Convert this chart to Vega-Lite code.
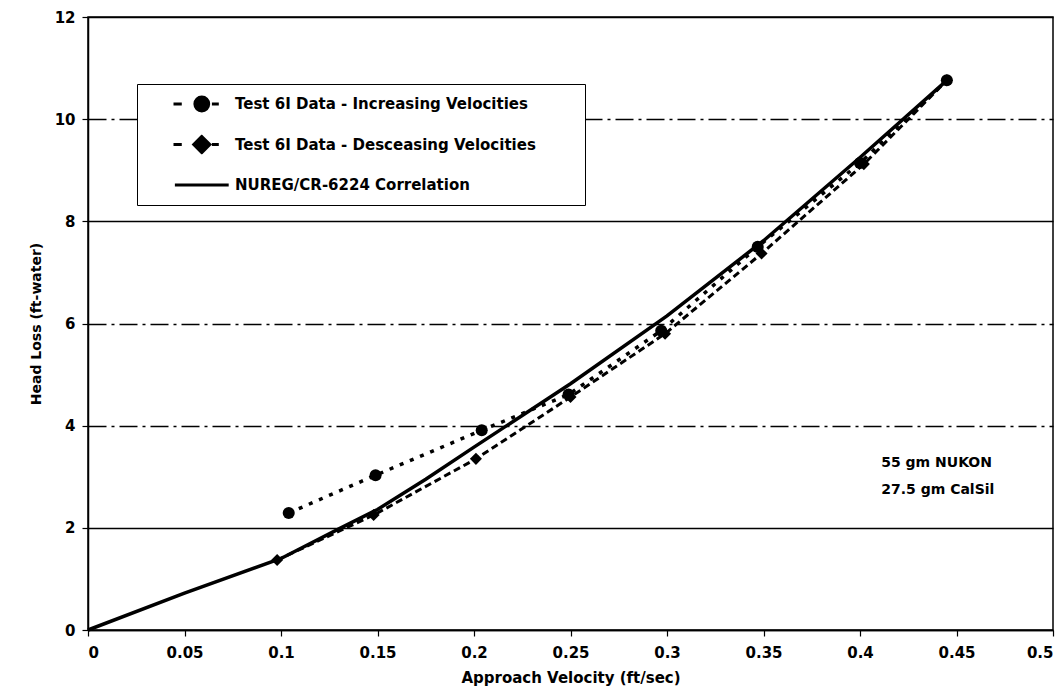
{
  "$schema": "https://vega.github.io/schema/vega-lite/v6.json",
  "width": 965,
  "height": 613,
  "autosize": {"type": "none"},
  "padding": {"left": 88, "top": 17, "right": 10, "bottom": 64},
  "background": "white",
  "config": {
    "font": "DejaVu Sans",
    "view": {"stroke": "black", "strokeWidth": 1.5},
    "axis": {
      "labelFont": "DejaVu Sans", "labelFontWeight": "bold", "labelFontSize": 15, "labelColor": "black",
      "titleFont": "DejaVu Sans", "titleFontWeight": "bold", "titleFontSize": 15, "titleColor": "black",
      "domainColor": "black", "tickColor": "black", "domainWidth": 1.5, "tickWidth": 1.2, "tickSize": 6
    }
  },
  "datasets": {
    "series": [
      {"s": "Test 6I Data - Increasing Velocities", "v": 0.104, "h": 2.29},
      {"s": "Test 6I Data - Increasing Velocities", "v": 0.149, "h": 3.03},
      {"s": "Test 6I Data - Increasing Velocities", "v": 0.204, "h": 3.91},
      {"s": "Test 6I Data - Increasing Velocities", "v": 0.249, "h": 4.61},
      {"s": "Test 6I Data - Increasing Velocities", "v": 0.297, "h": 5.86},
      {"s": "Test 6I Data - Increasing Velocities", "v": 0.347, "h": 7.50},
      {"s": "Test 6I Data - Increasing Velocities", "v": 0.400, "h": 9.14},
      {"s": "Test 6I Data - Increasing Velocities", "v": 0.445, "h": 10.76},
      {"s": "Test 6I Data - Desceasing Velocities", "v": 0.098, "h": 1.37},
      {"s": "Test 6I Data - Desceasing Velocities", "v": 0.148, "h": 2.25},
      {"s": "Test 6I Data - Desceasing Velocities", "v": 0.201, "h": 3.35},
      {"s": "Test 6I Data - Desceasing Velocities", "v": 0.250, "h": 4.56},
      {"s": "Test 6I Data - Desceasing Velocities", "v": 0.299, "h": 5.80},
      {"s": "Test 6I Data - Desceasing Velocities", "v": 0.349, "h": 7.37},
      {"s": "Test 6I Data - Desceasing Velocities", "v": 0.402, "h": 9.12},
      {"s": "Test 6I Data - Desceasing Velocities", "v": 0.445, "h": 10.76},
      {"s": "NUREG/CR-6224 Correlation", "v": 0.0, "h": 0.0},
      {"s": "NUREG/CR-6224 Correlation", "v": 0.05, "h": 0.72},
      {"s": "NUREG/CR-6224 Correlation", "v": 0.1, "h": 1.40},
      {"s": "NUREG/CR-6224 Correlation", "v": 0.13, "h": 1.98},
      {"s": "NUREG/CR-6224 Correlation", "v": 0.15, "h": 2.36},
      {"s": "NUREG/CR-6224 Correlation", "v": 0.175, "h": 2.95},
      {"s": "NUREG/CR-6224 Correlation", "v": 0.2, "h": 3.58},
      {"s": "NUREG/CR-6224 Correlation", "v": 0.25, "h": 4.82},
      {"s": "NUREG/CR-6224 Correlation", "v": 0.3, "h": 6.15},
      {"s": "NUREG/CR-6224 Correlation", "v": 0.35, "h": 7.62},
      {"s": "NUREG/CR-6224 Correlation", "v": 0.4, "h": 9.25},
      {"s": "NUREG/CR-6224 Correlation", "v": 0.445, "h": 10.76}
    ],
    "notes": [
      {"v": 0.411, "h": 3.27, "t": "55 gm NUKON"},
      {"v": 0.411, "h": 2.74, "t": "27.5 gm CalSil"}
    ]
  },
  "encoding": {
    "x": {"field": "v", "type": "quantitative", "scale": {"domain": [0, 0.5]},
      "axis": {"title": "Approach Velocity (ft/sec)", "values": [0,0.05,0.1,0.15,0.2,0.25,0.3,0.35,0.4,0.45,0.5], "format": "~g", "grid": false, "labelPadding": 9, "titlePadding": 10}},
    "y": {"field": "h", "type": "quantitative", "scale": {"domain": [0, 12]},
      "axis": {"title": "Head Loss (ft-water)", "titleFontSize": 14, "values": [0,2,4,6,8,10,12], "labelPadding": 7, "titlePadding": 11,
        "grid": true, "gridColor": "black", "gridOpacity": 1, "gridWidth": 1.3,
        "gridDash": {"condition": {"test": "datum.value === 2 || datum.value === 8 || datum.value === 12 || datum.value === 0", "value": [1, 0]}, "value": [18, 5, 3, 5]}}}
  },
  "layer": [
    {
      "data": {"name": "series"},
      "transform": [{"filter": "datum.s === 'NUREG/CR-6224 Correlation'"}],
      "mark": {"type": "line", "strokeWidth": 3.5},
      "encoding": {
        "order": {"field": "v", "type": "quantitative"},
        "color": {"field": "s", "type": "nominal",
          "scale": {"domain": ["Test 6I Data - Increasing Velocities", "Test 6I Data - Desceasing Velocities", "NUREG/CR-6224 Correlation"], "range": ["black", "black", "black"]},
          "legend": {
            "orient": "none", "legendX": 49, "legendY": 67, "title": " ", "titleOrient": "right", "titlePadding": 39, "titleFontSize": 8,
            "strokeColor": "black", "padding": 10, "fillColor": "white",
            "labelFont": "DejaVu Sans", "labelFontWeight": "bold", "labelFontSize": 15, "labelColor": "black", "labelLimit": 600,
            "symbolSize": 2116, "clipHeight": 20, "rowPadding": 20.5, "symbolOffset": 25, "labelOffset": 14,
            "symbolStrokeWidth": 3, "symbolStrokeColor": "black", "symbolFillColor": "black",
            "encode": {"symbols": {"update": {
              "shape": {"signal": "datum.value === 'Test 6I Data - Increasing Velocities' ? 'M-1,0L-0.64,0M-0.07,0A0.3,0.3 0 1,0 0.53,0A0.3,0.3 0 1,0 -0.07,0ZM0.67,0L0.97,0' : datum.value === 'Test 6I Data - Desceasing Velocities' ? 'M-1,0L-0.64,0M0.23,-0.35L0.58,0L0.23,0.35L-0.12,0ZM0.67,0L0.97,0' : 'M-0.94,0L1.4,0'"},
              "fill": {"value": "black"},
              "stroke": {"value": "black"},
              "strokeWidth": {"value": 3},
              "opacity": {"value": 1}
            }}}
          }}
      }
    },
    {
      "data": {"name": "series"},
      "transform": [{"filter": "datum.s === 'Test 6I Data - Desceasing Velocities'"}],
      "mark": {"type": "line", "color": "black", "strokeWidth": 3, "strokeDash": [7, 4]},
      "encoding": {"order": {"field": "v", "type": "quantitative"}}
    },
    {
      "data": {"name": "series"},
      "transform": [{"filter": "datum.s === 'Test 6I Data - Increasing Velocities'"}],
      "mark": {"type": "line", "color": "black", "strokeWidth": 3.5, "strokeDash": [4, 7]},
      "encoding": {"order": {"field": "v", "type": "quantitative"}}
    },
    {
      "data": {"name": "series"},
      "transform": [{"filter": "datum.s === 'Test 6I Data - Desceasing Velocities'"}],
      "mark": {"type": "point", "filled": true, "shape": "diamond", "color": "black", "opacity": 1, "size": 145}
    },
    {
      "data": {"name": "series"},
      "transform": [{"filter": "datum.s === 'Test 6I Data - Increasing Velocities'"}],
      "mark": {"type": "point", "filled": true, "shape": "circle", "color": "black", "opacity": 1, "size": 145}
    },
    {
      "data": {"name": "notes"},
      "mark": {"type": "text", "align": "left", "baseline": "middle", "font": "DejaVu Sans", "fontWeight": "bold", "fontSize": 14, "color": "black"},
      "encoding": {
        "text": {"field": "t", "type": "nominal"}
      }
    }
  ]
}
